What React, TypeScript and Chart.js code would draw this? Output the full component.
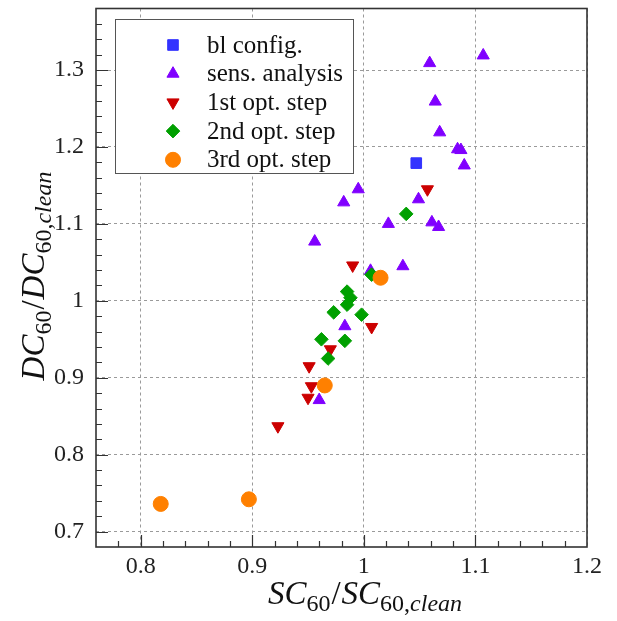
import React, { useEffect, useRef } from 'react';
import { Chart, registerables } from 'chart.js';
import { drawPoint } from 'chart.js/helpers';

Chart.register(...registerables);

// ---------------- data ----------------
const blX = [1.047];
const blY = [1.179];

const sensX = [1.059, 1.107, 1.064, 1.068, 1.084, 1.087, 1.090, 0.995, 0.982, 1.049, 1.022, 1.061, 1.067, 0.956, 1.006, 1.035, 0.983, 0.960];
const sensY = [1.309, 1.319, 1.259, 1.219, 1.197, 1.196, 1.176, 1.145, 1.128, 1.132, 1.100, 1.102, 1.096, 1.077, 1.039, 1.045, 0.967, 0.871];

const opt1X = [1.057, 0.990, 1.007, 0.970, 0.951, 0.953, 0.950, 0.923];
const opt1Y = [1.145, 1.046, 0.966, 0.937, 0.915, 0.889, 0.874, 0.837];

const opt2X = [1.038, 1.007, 0.985, 0.988, 0.985, 0.973, 0.998, 0.962, 0.983, 0.968];
const opt2Y = [1.113, 1.034, 1.012, 1.004, 0.995, 0.985, 0.982, 0.950, 0.948, 0.925];

const opt3X = [1.015, 0.965, 0.897, 0.818];
const opt3Y = [1.030, 0.890, 0.742, 0.736];

const seriesLabels = ['bl config.', 'sens. analysis', '1st opt. step', '2nd opt. step', '3rd opt. step'];

const xMin = 0.76, xMax = 1.2, yMin = 0.68, yMax = 1.38, tickStep = 0.02;

// ---------------- styles ----------------
const SERIF = '"Liberation Serif", "Times New Roman", serif';
const styles = [
  { color: '#3333ff', pointStyle: 'rect', radius: 7.5, rotation: 0 },
  { color: '#8000ff', pointStyle: 'triangle', radius: 7, rotation: 0 },
  { color: '#cc0000', pointStyle: 'triangle', radius: 7, rotation: 180 },
  { color: '#00a000', pointStyle: 'rectRot', radius: 6.8, rotation: 0 },
  { color: '#ff8000', pointStyle: 'circle', radius: 7.5, rotation: 0 },
];

function pts(xs: number[], ys: number[]) {
  return xs.map((x, i) => ({ x, y: ys[i] }));
}
function isMajor(v: number) {
  return Math.abs(v * 10 - Math.round(v * 10)) < 1e-6;
}
function fmt(v: number) {
  return String(Math.round(v * 10) / 10);
}

type Run = { t: string; italic: boolean; sub: boolean };

function drawRuns(ctx: CanvasRenderingContext2D, runs: Run[], cx: number, baseY: number, size: number, subSize: number) {
  const fontFor = (r: Run) => `${r.italic ? 'italic ' : ''}${r.sub ? subSize : size}px ${SERIF}`;
  let total = 0;
  const widths = runs.map((r) => {
    ctx.font = fontFor(r);
    const w = ctx.measureText(r.t).width + (r.t === '/' ? 2 : 0);
    total += w;
    return w;
  });
  let x = cx - total / 2;
  ctx.textBaseline = 'alphabetic';
  ctx.textAlign = 'left';
  runs.forEach((r, i) => {
    ctx.font = fontFor(r);
    ctx.fillText(r.t, x + (r.t === '/' ? 1 : 0), baseY + (r.sub ? size * 0.2 : 0));
    x += widths[i];
  });
}

const decorPlugin = {
  id: 'decor',
  afterDraw(chart: any) {
    const ctx: CanvasRenderingContext2D = chart.ctx;
    const { left, right, top, bottom } = chart.chartArea;
    const xs = chart.scales.x;
    const ys = chart.scales.y;
    ctx.save();
    // inward ticks
    ctx.strokeStyle = '#333';
    ctx.lineWidth = 1.2;
    ctx.beginPath();
    xs.ticks.forEach((t: any) => {
      const px = Math.round(xs.getPixelForValue(t.value)) + 0.5;
      if (px <= left + 1 || px >= right - 1) return;
      const len = isMajor(t.value) ? 12 : 6;
      ctx.moveTo(px, bottom);
      ctx.lineTo(px, bottom - len);
    });
    ys.ticks.forEach((t: any) => {
      const py = Math.round(ys.getPixelForValue(t.value)) + 0.5;
      if (py <= top + 1 || py >= bottom - 1) return;
      const len = isMajor(t.value) ? 12 : 6;
      ctx.moveTo(left, py);
      ctx.lineTo(left + len, py);
    });
    ctx.stroke();
    // frame
    ctx.strokeStyle = '#333';
    ctx.lineWidth = 1.6;
    ctx.strokeRect(left, top, right - left, bottom - top);

    // legend box
    const lx = 115, ly = 19, lw = 238, lh = 154;
    ctx.fillStyle = '#ffffff';
    ctx.fillRect(lx, ly, lw, lh);
    ctx.strokeStyle = '#555';
    ctx.lineWidth = 1;
    ctx.strokeRect(lx + 0.5, ly + 0.5, lw, lh);
    seriesLabels.forEach((lab, i) => {
      const st = styles[i];
      const cy = 45 + i * 28.7;
      ctx.fillStyle = st.color;
      ctx.strokeStyle = st.color;
      ctx.lineWidth = 1;
      drawPoint(ctx, { pointStyle: st.pointStyle as any, radius: st.radius, rotation: st.rotation, borderWidth: 1 } as any, 173, cy);
      ctx.fillStyle = '#111';
      ctx.font = `25px ${SERIF}`;
      ctx.textAlign = 'left';
      ctx.textBaseline = 'middle';
      ctx.fillText(lab, 207, cy + 1);
    });

    // axis titles
    ctx.fillStyle = '#111';
    const xRuns: Run[] = [
      { t: 'SC', italic: true, sub: false },
      { t: '60', italic: false, sub: true },
      { t: '/', italic: false, sub: false },
      { t: 'SC', italic: true, sub: false },
      { t: '60,', italic: false, sub: true },
      { t: 'clean', italic: true, sub: true },
    ];
    drawRuns(ctx, xRuns, 365, 604, 33, 24);
    const yRuns: Run[] = [
      { t: 'DC', italic: true, sub: false },
      { t: '60', italic: false, sub: true },
      { t: '/', italic: false, sub: false },
      { t: 'DC', italic: true, sub: false },
      { t: '60,', italic: false, sub: true },
      { t: 'clean', italic: true, sub: true },
    ];
    ctx.translate(44, 276);
    ctx.rotate(-Math.PI / 2);
    drawRuns(ctx, yRuns, 0, 0, 33, 24);
    ctx.restore();
  },
};

export default function App() {
  const ref = useRef<HTMLCanvasElement | null>(null);
  useEffect(() => {
    if (!ref.current) return;
    const allX = [blX, sensX, opt1X, opt2X, opt3X];
    const allY = [blY, sensY, opt1Y, opt2Y, opt3Y];
    const datasets = seriesLabels.map((label, i) => ({
      label,
      data: pts(allX[i], allY[i]),
      pointStyle: styles[i].pointStyle,
      pointRadius: styles[i].radius,
      pointRotation: styles[i].rotation,
      pointBackgroundColor: styles[i].color,
      pointBorderColor: styles[i].color,
      pointBorderWidth: 1,
      showLine: false,
      order: 5 - i,
    }));
    const tickFont = { family: SERIF, size: 24 };
    const chart = new Chart(ref.current, {
      type: 'scatter',
      data: { datasets: datasets as any },
      plugins: [decorPlugin],
      options: {
        animation: false,
        responsive: false,
        devicePixelRatio: 1,
        layout: { padding: { left: 0, right: 30, top: 6, bottom: 0 } },
        plugins: { legend: { display: false }, tooltip: { enabled: false } },
        events: [],
        scales: {
          x: {
            type: 'linear',
            min: xMin,
            max: xMax,
            afterFit: (s: any) => { s.height = 74; s.paddingLeft = 0; s.paddingRight = 0; },
            ticks: {
              stepSize: tickStep,
              autoSkip: false,
              maxRotation: 0,
              padding: 5,
              color: '#222',
              font: tickFont,
              callback: (v: any) => (isMajor(Number(v)) ? fmt(Number(v)) : ''),
            },
            grid: {
              drawTicks: false,
              lineWidth: 1,
              color: (c: any) => (c.tick && isMajor(c.tick.value) ? '#9a9a9a' : 'rgba(0,0,0,0)'),
            },
            border: { display: false, dash: [3, 3] },
          },
          y: {
            type: 'linear',
            min: yMin,
            max: yMax,
            afterFit: (s: any) => { s.width = 96; s.paddingTop = 0; s.paddingBottom = 0; },
            ticks: {
              stepSize: tickStep,
              autoSkip: false,
              padding: 12,
              color: '#222',
              font: tickFont,
              callback: (v: any) => (isMajor(Number(v)) ? fmt(Number(v)) : ''),
            },
            grid: {
              drawTicks: false,
              lineWidth: 1,
              color: (c: any) => (c.tick && isMajor(c.tick.value) ? '#9a9a9a' : 'rgba(0,0,0,0)'),
            },
            border: { display: false, dash: [3, 3] },
          },
        },
      } as any,
    });
    return () => chart.destroy();
  }, []);
  return (
    <div style={{ position: 'absolute', left: 0, top: 0, width: 617, height: 621, background: '#fff' }}>
      <canvas ref={ref} width={617} height={621} style={{ display: 'block', width: 617, height: 621 }} />
    </div>
  );
}
